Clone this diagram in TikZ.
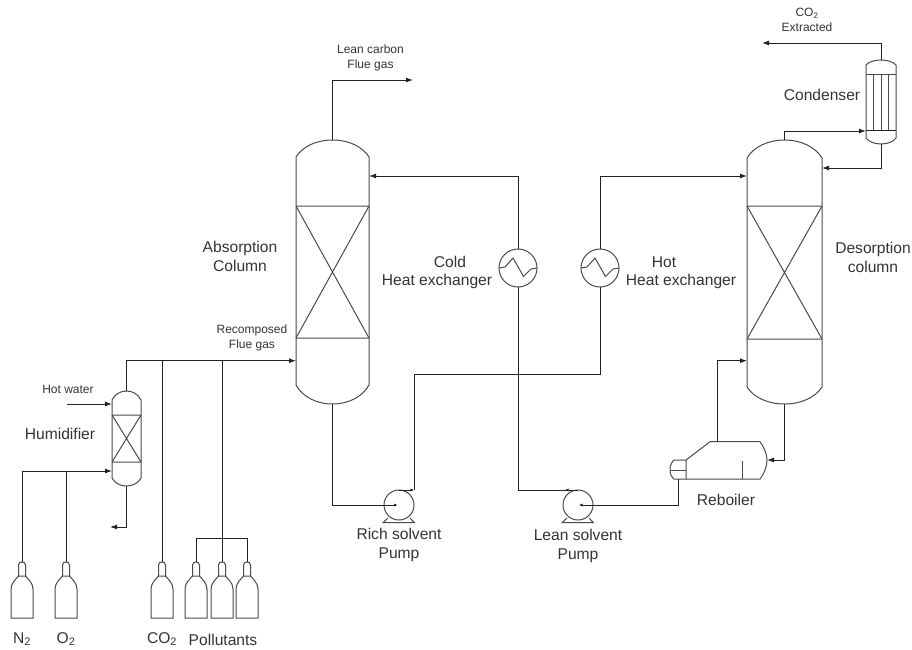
\documentclass[tikz,border=0pt]{standalone}
\usepackage{fontspec}
\setmainfont{Liberation Sans}
\usetikzlibrary{arrows.meta}
\definecolor{ln}{HTML}{222222}
\definecolor{eq}{HTML}{4A4A4A}
\definecolor{tx}{HTML}{333333}
\tikzset{
  pipe/.style={draw=ln,line width=0.95pt},
  flow/.style={pipe,-{Latex[length=7pt,width=5pt]}},
  tiny flow/.style={pipe,-{Latex[length=3.5pt,width=3.2pt]}},
  equip/.style={draw=eq,line width=1pt},
  port/.style={inner sep=0pt,outer sep=0pt,draw=none},
  hxc/.style={circle,draw=eq,line width=1pt,minimum size=38pt,inner sep=0pt,outer sep=0pt},
  pumpc/.style={circle,draw=eq,line width=1pt,minimum size=30pt,inner sep=0pt,outer sep=0pt},
  big/.style={text=tx,font=\fontsize{15.6}{19}\selectfont,align=center,inner sep=0pt},
  small/.style={text=tx,font=\fontsize{12}{15}\selectfont,align=center,inner sep=0pt},
}
% vessel: name, left, right, top, shoulder top, shoulder bottom, bottom
\newcommand{\vesselshape}[7]{%
  \node[port,minimum width=#3pt-#2pt,minimum height=#7pt-#4pt] (#1) at ({(#2+#3)/2},{(#4+#7)/2}) {};
  \draw[equip] (#2,#5) .. controls ({#2+0.09*(#3-#2)},{#4+0.38*(#5-#4)}) and ({#2+0.28*(#3-#2)},#4) .. ({(#2+#3)/2},#4)
     .. controls ({#3-0.28*(#3-#2)},#4) and ({#3-0.09*(#3-#2)},{#4+0.38*(#5-#4)}) .. (#3,#5)
     -- (#3,#6) .. controls ({#3-0.09*(#3-#2)},{#7-0.38*(#7-#6)}) and ({#3-0.28*(#3-#2)},#7) .. ({(#2+#3)/2},#7)
     .. controls ({#2+0.28*(#3-#2)},#7) and ({#2+0.09*(#3-#2)},{#7-0.38*(#7-#6)}) .. (#2,#6) -- cycle;
}
\newcommand{\packing}[4]{% left right top bottom
  \draw[equip] (#1,#3) -- (#2,#3) (#1,#4) -- (#2,#4) (#1,#3) -- (#2,#4) (#2,#3) -- (#1,#4);
}
\newcommand{\cylinder}[2]{% name, cx
  \node[port] (#1) at (#2,562) {};
  \draw[equip] (#2-3.5,576) -- (#2-3.5,565) .. controls (#2-3.5,562.5) and (#2-1.5,562) .. (#2,562)
     .. controls (#2+1.5,562) and (#2+3.5,562.5) .. (#2+3.5,565) -- (#2+3.5,576);
  \draw[equip] (#2-11,618) -- (#2-11,589) .. controls (#2-11,583) and (#2-6,579) .. (#2-3.5,576) -- (#2+3.5,576)
     .. controls (#2+6,579) and (#2+11,583) .. (#2+11,589) -- (#2+11,618) -- cycle;
}
\newcommand{\zigzag}[1]{% cx (y fixed 268)
  \draw[equip] (#1-19,268) -- (#1-13,267) -- (#1-5,258) -- (#1+5.5,276.5) -- (#1+13,269) -- (#1+19,268);
}
\newcommand{\pumpbase}[1]{%
  \draw[equip] (#1-11,518) -- (#1-16,522.7) -- (#1+15.5,522.7) -- (#1+11,518);
}
\begin{document}
\begin{tikzpicture}[x=1pt,y=-1pt]
\useasboundingbox (0,0) rectangle (912,649);
% vessels
\vesselshape{abs}{296}{369}{140}{157}{385}{404}
\packing{296}{369}{206}{338}
\vesselshape{des}{747}{822}{140}{158}{387}{404}
\packing{747}{822}{206}{339}
\vesselshape{cond}{866}{896}{60}{65}{138}{144}
\draw[equip] (866,74) -- (896,74) (873,74) -- (873,130) (881,74) -- (881,130) (888,74) -- (888,130);
\draw[draw=ln,line width=0.95pt] (866,130) -- (896,130);
\vesselshape{hum}{112}{141}{391}{400}{478}{486}
\packing{112}{141}{415}{462}
% heat exchangers
\node[hxc] (cold) at (518,268) {};
\zigzag{518}
\node[hxc] (hot) at (600,268) {};
\zigzag{600}
% pumps
\node[pumpc] (rich) at (399,505) {};
\pumpbase{399}
\node[pumpc] (lean) at (578,505) {};
\pumpbase{578}
% reboiler
\node[port,minimum width=93pt,minimum height=38pt] (reb) at (719,460.5) {};
\draw[equip] (686,460) -- (710,441.7) -- (760,441.7) .. controls (764,447) and (767,454) .. (767,460)
   .. controls (767,467) and (764,474) .. (760,479) -- (686,479) -- cycle;
\draw[equip] (686,460) -- (674,460) .. controls (671,463) and (670,466) .. (670,470)
   .. controls (670,474) and (671,476) .. (674,479) -- (686,479);
\draw[equip] (670,470) -- (686,470) (742.5,461) -- (742.5,479);
% cylinders
\cylinder{ntwo}{22}
\cylinder{otwo}{66}
\cylinder{cotwo}{162}
\cylinder{pa}{196}
\cylinder{pb}{222}
\cylinder{pc}{247}
% free ends and junctions
\coordinate (leanout) at (413,80);
\coordinate (co2out) at (762,43);
\coordinate (hotin) at (67,404);
\coordinate (drain) at (110,527);
\coordinate (absfeed) at (296,360.7);
\coordinate (absret) at (369,176);
\coordinate (desret) at (747,176);
\coordinate (desup) at (822,168);
\coordinate (condin) at (866,131);
\coordinate (desreb) at (747,360.7);
\coordinate (rebin) at (767,460);
\coordinate (humin) at (112,471);
\coordinate (humhot) at (112,404);
\coordinate (richin) at (397.5,505);
\coordinate (richout) at (414,490);
\coordinate (leanin) at (579,505);
\coordinate (leanout2) at (565,490);
\coordinate (rebout) at (678,479);
\coordinate (rebtop) at (717.7,441.7);
\coordinate (pbus) at (222,538);
% connectors
\draw[flow] (abs.north) |- (leanout);
\draw[flow] (cond.north) |- (co2out);
\draw[flow] (des.north) |- (condin);
\draw[flow] (cond.south) |- (desup);
\draw[flow] (cold.north) |- (absret);
\draw[flow] (hot.north) |- (desret);
\draw[flow] (hum.north) |- (absfeed);
\draw[flow] (hum.south) |- (drain);
\draw[flow] (hotin) -- (humhot);
\draw[flow] (ntwo.north) |- (humin);
\draw[pipe] (otwo.north) -- (otwo.north |- humin);
\draw[pipe] (cotwo.north) -- (cotwo.north |- absfeed);
\draw[pipe] (pb.north) -- (pb.north |- absfeed);
\draw[pipe] (pa.north) |- (pbus) -| (pc.north);
\draw[tiny flow] (abs.south) |- (richin);
\draw[pipe] (hot.south) |- (richout |- 0,374) -- (richout);
\draw[tiny flow] (rich.north) -- (richout);
\draw[tiny flow] (rebout) |- (leanin);
\draw[pipe] (cold.south) |- (lean.north);
\draw[tiny flow] (lean.north) -- (leanout2);
\draw[flow] (rebtop) |- (desreb);
\draw[flow] (des.south) |- (rebin);
% labels
\node[small] (tlean) at (370.5,57.5) {Lean carbon\\Flue gas};
\node[small] (tco2) at (807,20) {CO\textsubscript{2}\\Extracted};
\node[small] (trec) at (252,337.5) {Recomposed\\Flue gas};
\node[small] (thot) at (68,389) {Hot water};
\node[big] (thum) at (60,434) {Humidifier};
\node[big] (tcond) at (822,95) {Condenser};
\node[big] (tabs) at (240,256.5) {Absorption\\Column};
\node[big] (tdes) at (873,257.5) {Desorption\\column};
\node[big] (tcold) at (450,262) {Cold};
\node[big] (tcoldb) at (437,281) {Heat exchanger};
\node[big] (thotl) at (664,262) {Hot};
\node[big] (thotb) at (681,281) {Heat exchanger};
\node[big] (trich) at (399,544.5) {Rich solvent\\Pump};
\node[big] (tleans) at (578,546) {Lean solvent\\Pump};
\node[big] (treb) at (726,500) {Reboiler};
\node[big] (tn) at (22,639) {N\textsubscript{2}};
\node[big] (to) at (66,639) {O\textsubscript{2}};
\node[big] (tc) at (162,639) {CO\textsubscript{2}};
\node[big] (tp) at (223,640) {Pollutants};
\end{tikzpicture}
\end{document}
